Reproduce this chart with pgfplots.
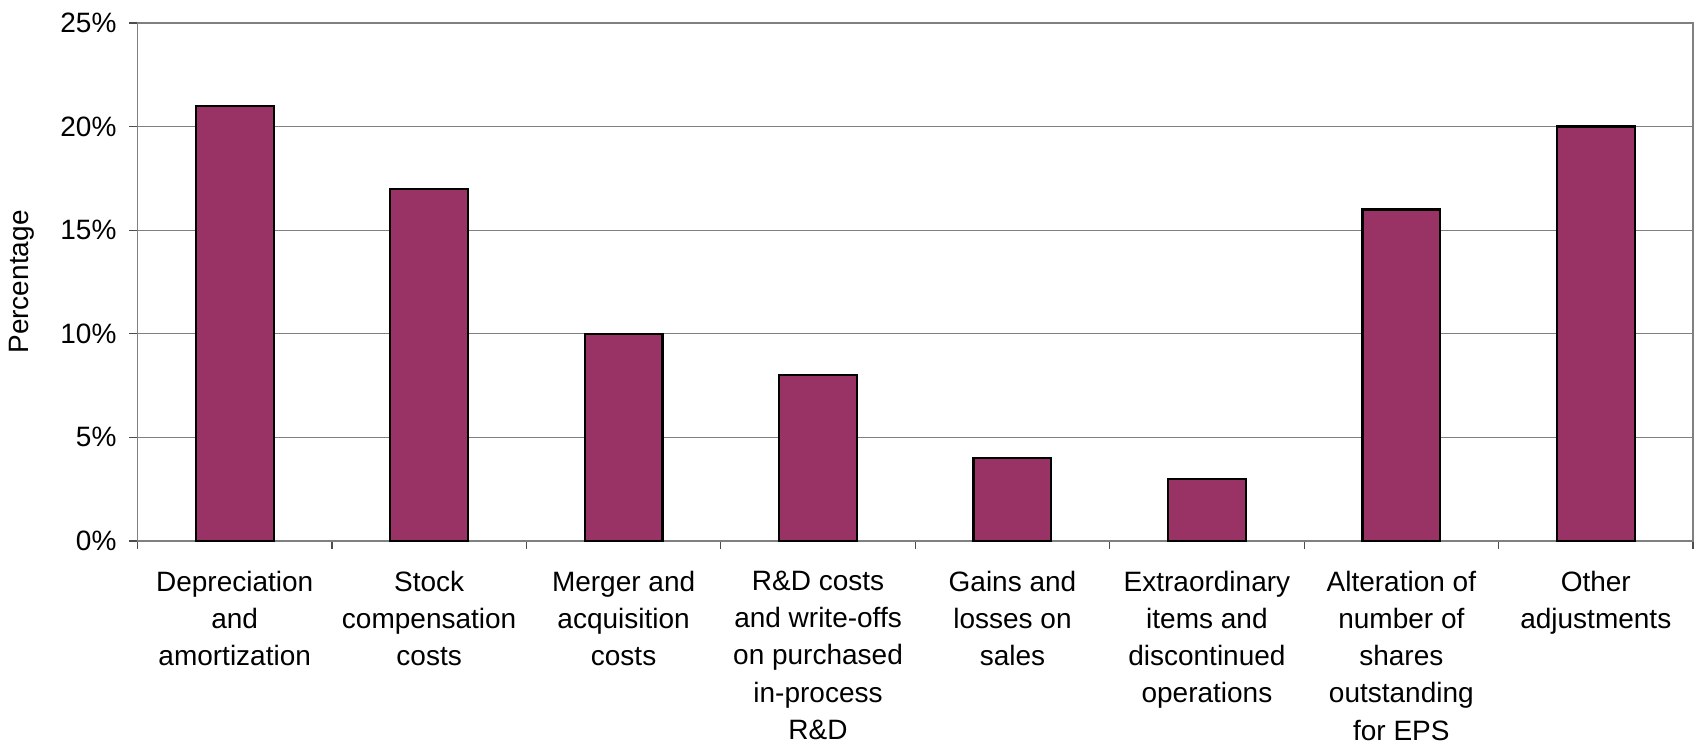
\documentclass[border=0pt]{standalone}
\usepackage{pgfplots}
\pgfplotsset{compat=1.18}
\usepackage{fontspec}
\setmainfont{Liberation Sans}
\definecolor{barplum}{HTML}{993366}
\definecolor{axgray}{HTML}{808080}
\begin{document}
\begin{tikzpicture}
\begin{axis}[
  name=ax,
  scale only axis,
  width=777.75pt, height=259pt,
  xmin=-0.5, xmax=7.5,
  ymin=0, ymax=25,
  ytick={0,5,10,15,20,25},
  yticklabels={0\%,5\%,10\%,15\%,20\%,25\%},
  xtick={-0.5,0.5,...,7.5},
  x tick label as interval,
  xticklabels={
    {Depreciation\\and\\amortization},
    {Stock\\compensation\\costs},
    {Merger and\\acquisition\\costs},
    {R\&D costs\\and write-offs\\on purchased\\in-process\\R\&D},
    {Gains and\\losses on\\sales},
    {Extraordinary\\items and\\discontinued\\operations},
    {Alteration of\\number of\\shares\\outstanding\\for EPS},
    {Other\\adjustments}},
  tick align=outside,
  tick pos=left,
  major tick length=4pt,
  tick style={axgray!60!black, line width=0.6pt},
  ymajorgrids,
  grid style={axgray, line width=0.6pt},
  axis line style={axgray, line width=0.8pt},
  ylabel={Percentage},
  ylabel shift=6pt,
  ylabel style={font={\fontsize{14}{16}\selectfont}},
  every tick label/.append style={font={\fontsize{14}{18.6}\selectfont}},
  xticklabel style={align=center, yshift=-7.5pt},
  yticklabel style={xshift=-3pt},
  /pgf/number format/assume math mode=true,
]
\addplot[ybar, bar width=0.4, fill=barplum, draw=black, line width=1.1pt] coordinates {
  (0,21) (1,17) (2,10) (3,8) (4,4) (5,3) (6,16) (7,20)
};
\end{axis}
\pgfresetboundingbox
\path ([shift={(-68.75pt,-103.5pt)}]ax.south west) rectangle ([shift={(2.5pt,11.5pt)}]ax.north east);
\end{tikzpicture}
\end{document}
